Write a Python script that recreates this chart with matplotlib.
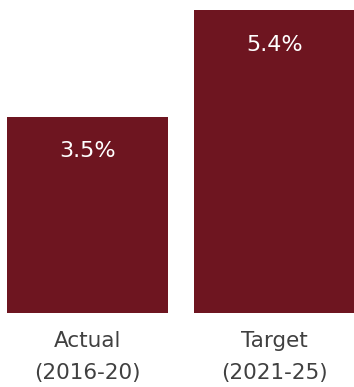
import matplotlib.pyplot as plt

categories = ['Actual\n(2016-20)', 'Target\n(2021-25)']
values = [3.5, 5.4]
labels = ['3.5%', '5.4%']

BAR_COLOR = '#6e1520'

fig = plt.figure(figsize=(3.54, 3.87), dpi=100)
ax = fig.add_axes([0, 0.191, 1, 0.809])

x = range(len(values))
bars = ax.bar(x, values, width=0.86, color=BAR_COLOR)

for b, lab in zip(bars, labels):
    ax.annotate(lab, (b.get_x() + b.get_width() / 2, b.get_height()),
                xytext=(0, -25), textcoords='offset points',
                ha='center', va='center', color='white',
                fontsize=16, fontfamily='DejaVu Sans')

ax.set_xlim(-0.468, 1.425)
ax.set_ylim(0, 5.58)
ax.set_xticks(list(x))
ax.set_xticklabels(categories, fontsize=15.5, fontfamily='DejaVu Sans',
                   color='#404040', linespacing=1.72)
ax.tick_params(axis='x', length=0, pad=13)
ax.set_yticks([])
for s in ax.spines.values():
    s.set_visible(False)

fig.savefig('out.png', dpi=100)
